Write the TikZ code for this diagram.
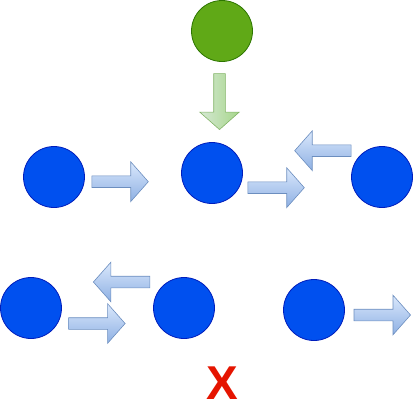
\documentclass[tikz,border=0pt]{standalone}
\usepackage{fontspec}
\setmainfont{Liberation Sans}
\usepackage{xcolor}
\usetikzlibrary{shapes.arrows}
\definecolor{dioblue}{HTML}{0050EF}
\definecolor{dioblueline}{HTML}{001DBC}
\definecolor{diogreen}{HTML}{60A917}
\definecolor{diogreenline}{HTML}{2D7600}
\definecolor{arrlight}{HTML}{DAE8FC}
\definecolor{arrdark}{HTML}{8EB0E3}
\definecolor{arrline}{HTML}{6C8EBF}
\definecolor{garrlight}{HTML}{D5E8D4}
\definecolor{garrdark}{HTML}{A6D68A}
\definecolor{garrline}{HTML}{82B366}
\definecolor{diored}{HTML}{E51400}

\begin{document}
\begin{tikzpicture}[
  x=1pt, y=-1pt,
  bnode/.style={circle, draw=dioblueline, fill=dioblue, line width=0.8pt, minimum size=61pt, inner sep=0pt},
  gnode/.style={circle, draw=diogreenline, fill=diogreen, line width=0.8pt, minimum size=61pt, inner sep=0pt},
  barrow/.style={single arrow, draw=arrline, top color=arrlight, bottom color=arrdark, line width=0.6pt,
    minimum height=56.5pt, inner xsep=0pt, inner ysep=5.5pt, single arrow head extend=14pt, single arrow tip angle=97},
  garrow/.style={single arrow, draw=garrline, left color=garrlight, right color=garrdark, line width=0.6pt,
    minimum height=56pt, inner xsep=0pt, inner ysep=5.5pt, single arrow head extend=14pt, single arrow tip angle=97},
]
\useasboundingbox (0,0) rectangle (413,402);

% Top
\node[gnode] (g) at (222, 31) {};
\node[garrow, rotate=-90] (ga) at (219.5, 99) {};

% Row 1
\node[bnode] (b1) at (54, 177) {};
\node[bnode] (b2) at (212, 173) {};
\node[bnode] (b3) at (382, 177) {};
\node[barrow] (a1) at (117.5, 181.7) {};
\node[barrow] (a2) at (273.5, 187.7) {};
\node[barrow, rotate=180] (a3) at (325.5, 150.7) {};

% Row 2
\node[bnode] (b4) at (31, 308) {};
\node[bnode] (b5) at (184, 308) {};
\node[bnode] (b6) at (314, 310) {};
\node[barrow] (a4) at (94.3, 323.5) {};
\node[barrow, rotate=180] (a5) at (124.2, 282) {};
\node[barrow] (a6) at (379.7, 315) {};

% Mark
\node[anchor=base, inner sep=0pt, text=diored, font=\fontsize{47.5}{50}\selectfont\bfseries] (x) at (222, 399.5) {X};

\end{tikzpicture}
\end{document}
